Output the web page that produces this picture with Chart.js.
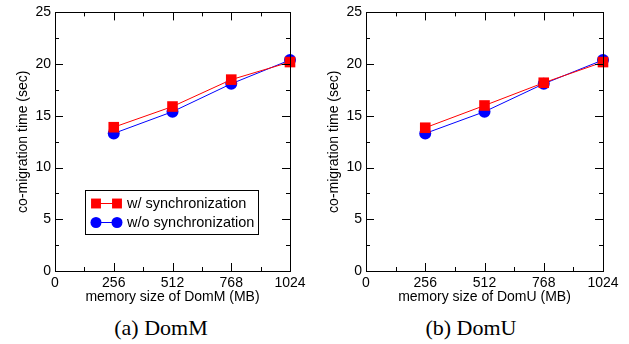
<!DOCTYPE html>
<html>
<head>
<meta charset="utf-8">
<script src="https://cdn.jsdelivr.net/npm/chart.js@4.4.1/dist/chart.umd.min.js"></script>
<style>
html,body{margin:0;padding:0;background:#fff;}
#wrap{position:relative;width:629px;height:344px;overflow:hidden;}
.pane{position:absolute;top:0;}
.cap{position:absolute;top:315px;width:200px;text-align:center;font-family:"Liberation Serif",serif;font-size:22px;color:#000;line-height:26px;}
</style>
</head>
<body>
<div id="wrap">
  <div class="pane" style="left:0;"><canvas id="c1" width="314" height="310"></canvas></div>
  <div class="pane" style="left:314px;"><canvas id="c2" width="315" height="310"></canvas></div>
  <div class="cap" style="left:61px;">(a) DomM</div>
  <div class="cap" style="left:371px;">(b) DomU</div>
</div>
<script>
// ---- data ----
const memorySizes = [256, 512, 768, 1024];
const xTickValues = [0, 256, 512, 768, 1024];
const yTickValues = [0, 5, 10, 15, 20, 25];
const domM_withSync = [13.9, 15.9, 18.5, 20.2];
const domM_withoutSync = [13.3, 15.4, 18.1, 20.4];
const domU_withSync = [13.85, 16.0, 18.2, 20.2];
const domU_withoutSync = [13.3, 15.4, 18.1, 20.4];
const seriesNames = ['w/ synchronization', 'w/o synchronization'];
const yTitle = 'co-migration time (sec)';

const SANS = '"Liberation Sans", Arial, sans-serif';

function pts(xs, ys){ return xs.map((x,i)=>({x:x, y:ys[i]})); }

const framePlugin = {
  id: 'frame',
  afterDraw(chart, args, opts){
    const ctx = chart.ctx, a = chart.chartArea;
    const xs = chart.scales.x, ys = chart.scales.y;
    ctx.save();
    ctx.strokeStyle = '#000';
    ctx.lineWidth = 1;
    // ticks inward on all four sides
    ctx.beginPath();
    for (let v = 0; v <= 1024; v += 128){
      const px = Math.round(xs.getPixelForValue(v)) + 0.5;
      const len = (v % 256 === 0) ? 8 : 4;
      ctx.moveTo(px, a.bottom); ctx.lineTo(px, a.bottom - len);
      ctx.moveTo(px, a.top); ctx.lineTo(px, a.top + len);
    }
    for (let v = 0; v <= 25; v += 2.5){
      const py = Math.round(ys.getPixelForValue(v)) + 0.5;
      const len = (v % 5 === 0) ? 8 : 4;
      ctx.moveTo(a.left, py); ctx.lineTo(a.left + len, py);
      ctx.moveTo(a.right, py); ctx.lineTo(a.right - len, py);
    }
    ctx.stroke();
    ctx.strokeRect(Math.round(a.left)+0.5, Math.round(a.top)+0.5, Math.round(a.right-a.left), Math.round(a.bottom-a.top));
    // axis titles
    ctx.fillStyle = '#000';
    ctx.font = '14px ' + SANS;
    ctx.textAlign = 'center';
    ctx.textBaseline = 'middle';
    ctx.fillText(opts.xTitle, (a.left + a.right)/2, a.bottom + 26);
    ctx.save();
    ctx.translate(a.left - 32, (a.top + a.bottom)/2);
    ctx.rotate(-Math.PI/2);
    ctx.fillText(opts.yTitle, 0, 0);
    ctx.restore();
    // legend
    if (opts.legend){
      const L = opts.legend;
      ctx.strokeRect(L.x + 0.5, L.y + 0.5, L.w, L.h);
      chart.data.datasets.forEach((ds, i) => {
        const cy = L.y + 13.5 + i * 19;
        const x1 = L.x + 11, x2 = L.x + 32;
        ctx.strokeStyle = ds.borderColor;
        ctx.lineWidth = 1;
        ctx.beginPath(); ctx.moveTo(x1, cy); ctx.lineTo(x2, cy); ctx.stroke();
        const st = {pointStyle: ds.pointStyle, radius: ds.pointStyle === 'rect' ? 7 : 5.5, borderWidth: 0, rotation: 0};
        ctx.fillStyle = ds.backgroundColor;
        Chart.helpers.drawPoint(ctx, st, x1, cy);
        Chart.helpers.drawPoint(ctx, st, x2, cy);
        ctx.fillStyle = '#000';
        ctx.textAlign = 'left';
        ctx.font = '14.5px ' + SANS;
        ctx.fillText(ds.label, L.x + 42, cy + 0.5);
      });
    }
    ctx.restore();
  }
};

function makeChart(id, withSync, withoutSync, xTitle, leftW, padRight, legend){
  return new Chart(document.getElementById(id), {
    type: 'line',
    data: {
      datasets: [
        {label: seriesNames[0], data: pts(memorySizes, withSync), borderColor: '#ff0000', backgroundColor: '#ff0000',
         borderWidth: 1, pointStyle: 'rect', pointRadius: 7.5, pointBorderWidth: 0, pointHoverRadius: 7.5, clip: false, tension: 0},
        {label: seriesNames[1], data: pts(memorySizes, withoutSync), borderColor: '#0000ff', backgroundColor: '#0000ff',
         borderWidth: 1, pointStyle: 'circle', pointRadius: 6, pointBorderWidth: 0, pointHoverRadius: 6, clip: false, tension: 0}
      ]
    },
    options: {
      responsive: false,
      animation: false,
      events: [],
      layout: {padding: {left: 0, right: padRight, top: 11, bottom: 0}},
      plugins: {
        legend: {display: false},
        tooltip: {enabled: false},
        frame: {xTitle: xTitle, yTitle: yTitle, legend: legend}
      },
      scales: {
        x: {
          type: 'linear', min: 0, max: 1024,
          afterBuildTicks: s => { s.ticks = xTickValues.map(v => ({value: v})); },
          grid: {display: false, drawTicks: false},
          border: {display: false},
          ticks: {font: {family: SANS, size: 14}, color: '#000', padding: 4, maxRotation: 0, autoSkip: false,
                  callback: v => String(v)},
          afterFit: s => { s.height = 310 - 271 - 0; }
        },
        y: {
          type: 'linear', min: 0, max: 25,
          afterBuildTicks: s => { s.ticks = yTickValues.map(v => ({value: v})); },
          grid: {display: false, drawTicks: false},
          border: {display: false},
          ticks: {font: {family: SANS, size: 14}, color: '#000', padding: 4, callback: v => String(v)},
          afterFit: s => { s.width = leftW; }
        }
      }
    },
    plugins: [framePlugin]
  });
}

makeChart('c1', domM_withSync, domM_withoutSync, 'memory size of DomM (MB)', 55, 24, {x: 85, y: 190, w: 173, h: 44});
makeChart('c2', domU_withSync, domU_withoutSync, 'memory size of DomU (MB)', 52, 26, null);
</script>
</body>
</html>
